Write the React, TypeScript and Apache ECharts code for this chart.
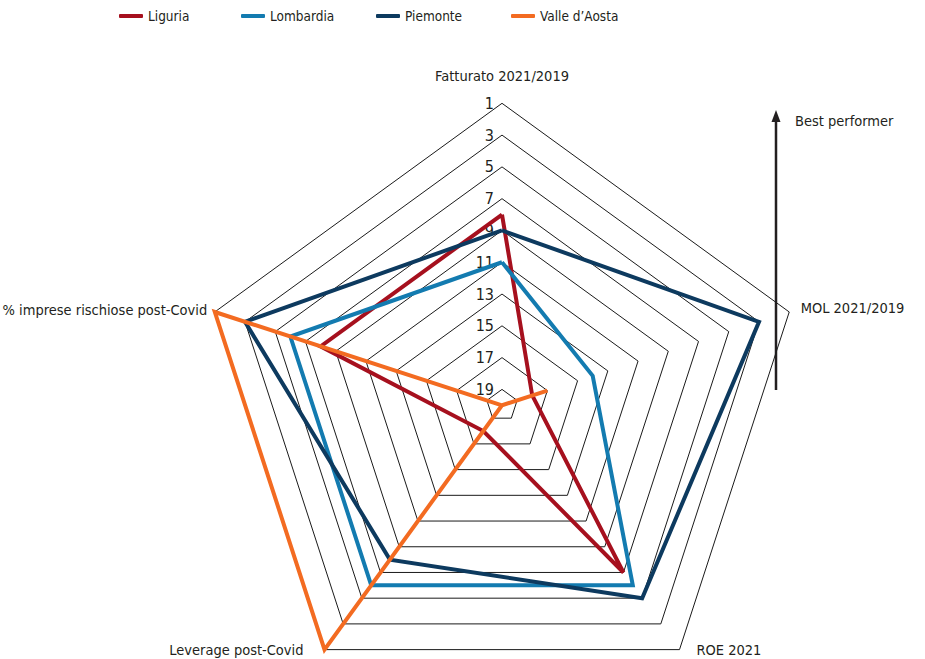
import React, { useEffect, useRef } from 'react';
import * as echarts from 'echarts';

// ---- data ----
const INDICATORS = [
  'Fatturato 2021/2019',
  '% imprese rischiose post-Covid',
  'Leverage post-Covid',
  'ROE 2021',
  'MOL 2021/2019',
];
const REGIONS = ['Liguria', 'Lombardia', 'Piemonte', 'Valle d’Aosta'];
// ranks (1 = best performer, 20 = worst) in INDICATORS order
const LIGURIA = [8, 8, 18, 7, 18];
const LOMBARDIA = [11, 6, 6, 6, 14];
const PIEMONTE = [9, 3, 8, 5, 3];
const VALLE_D_AOSTA = [20, 1, 1, 20, 17];
const RANK_TICKS = [1, 3, 5, 7, 9, 11, 13, 15, 17, 19];
const WORST_RANK = 20;
const COLORS = ['#a6101e', '#137bb0', '#0d3a5f', '#f36b21'];

const FONT = "'Liberation Sans Narrow', 'DejaVu Sans Condensed', 'Noto Sans', sans-serif";
const TEXT = '#231f20';
const NAME_SIZE = 14.5;

// layout only
const LEGEND_LEFT = [119, 241, 376, 511];
const NAME_LAYOUT = [
  { nameGap: 20, padding: [0, 0, 0, 0] },
  { nameGap: 8, padding: [0, 0, 8, 0] },
  { nameGap: 0, padding: [0, 21, 13, 0] },
  { nameGap: 0, padding: [0, 0, 13, 17] },
  { nameGap: 12, padding: [0, 0, 6, 0] },
];

const toRadius = (rank: number) => WORST_RANK - rank;

export default function App() {
  const ref = useRef<HTMLDivElement>(null);

  useEffect(() => {
    if (!ref.current) return;
    const chart = echarts.init(ref.current, undefined, { renderer: 'svg' });
    const seriesData = [LIGURIA, LOMBARDIA, PIEMONTE, VALLE_D_AOSTA];

    const center = [502, 405.3];
    const radius = 302;

    chart.setOption({
      animation: false,
      backgroundColor: '#ffffff',
      textStyle: { fontFamily: FONT },
      legend: REGIONS.map((name, i) => ({
        data: [name],
        left: LEGEND_LEFT[i],
        top: 9,
        padding: 0,
        itemWidth: 24,
        itemHeight: 4,
        itemGap: 5,
        icon: 'roundRect',
        textStyle: { fontFamily: FONT, fontSize: 13.5, color: TEXT },
      })),
      radar: {
        center,
        radius,
        startAngle: 90,
        shape: 'polygon',
        splitNumber: 1,
        axisLine: { show: false },
        splitLine: { show: false },
        splitArea: { show: false },
        axisTick: { show: false },
        axisLabel: { show: false },
        axisName: { color: TEXT, fontSize: NAME_SIZE, fontFamily: FONT },
        indicator: INDICATORS.map((name, i) => ({
          name,
          min: 0,
          max: WORST_RANK - 1,
          nameGap: NAME_LAYOUT[i].nameGap,
          nameTextStyle: {
            color: TEXT,
            fontSize: NAME_SIZE,
            fontFamily: FONT,
            padding: NAME_LAYOUT[i].padding,
          },
        })),
      },
      polar: { center, radius },
      angleAxis: {
        type: 'value',
        startAngle: 90,
        min: 0,
        max: 360,
        show: false,
      },
      radiusAxis: {
        type: 'value',
        min: 0,
        max: WORST_RANK - 1,
        interval: 1,
        axisLine: { show: false },
        axisTick: { show: false },
        splitLine: { show: false },
        axisLabel: {
          margin: 8,
          color: TEXT,
          fontSize: 16,
          fontFamily: FONT,
          padding: [0, 0, 4, 0],
          formatter: (v: number) => {
            const rank = WORST_RANK - v;
            return RANK_TICKS.includes(rank) ? String(rank) : '';
          },
        },
      },
      series: [
        {
          name: 'rings',
          type: 'radar',
          silent: true,
          symbol: 'none',
          z: 1,
          lineStyle: { color: '#1a1a1a', width: 1, join: 'miter' },
          itemStyle: { color: '#1a1a1a' },
          data: RANK_TICKS.map((t) => ({
            value: INDICATORS.map(() => toRadius(t)),
          })),
        },
        ...REGIONS.map((name, i) => ({
          name,
          type: 'radar',
          symbol: 'none',
          z: 2 + i,
          itemStyle: { color: COLORS[i] },
          lineStyle: { color: COLORS[i], width: 4, join: 'miter', cap: 'butt' },
          data: [{ name, value: seriesData[i].map(toRadius) }],
        })),
      ],
      graphic: [
        {
          type: 'line',
          shape: { x1: 776, y1: 390, x2: 776, y2: 120 },
          style: { stroke: TEXT, lineWidth: 2.5 },
        },
        {
          type: 'polygon',
          shape: { points: [[776, 110], [771.5, 122], [780.5, 122]] },
          style: { fill: TEXT },
        },
        {
          type: 'text',
          x: 795,
          y: 121,
          style: {
            text: 'Best performer',
            fill: TEXT,
            fontSize: NAME_SIZE,
            fontFamily: FONT,
            verticalAlign: 'middle',
            align: 'left',
          },
        },
      ],
    });

    return () => chart.dispose();
  }, []);

  return (
    <div
      ref={ref}
      style={{ position: 'fixed', left: 0, top: 0, width: 925, height: 659, background: '#fff' }}
    />
  );
}
